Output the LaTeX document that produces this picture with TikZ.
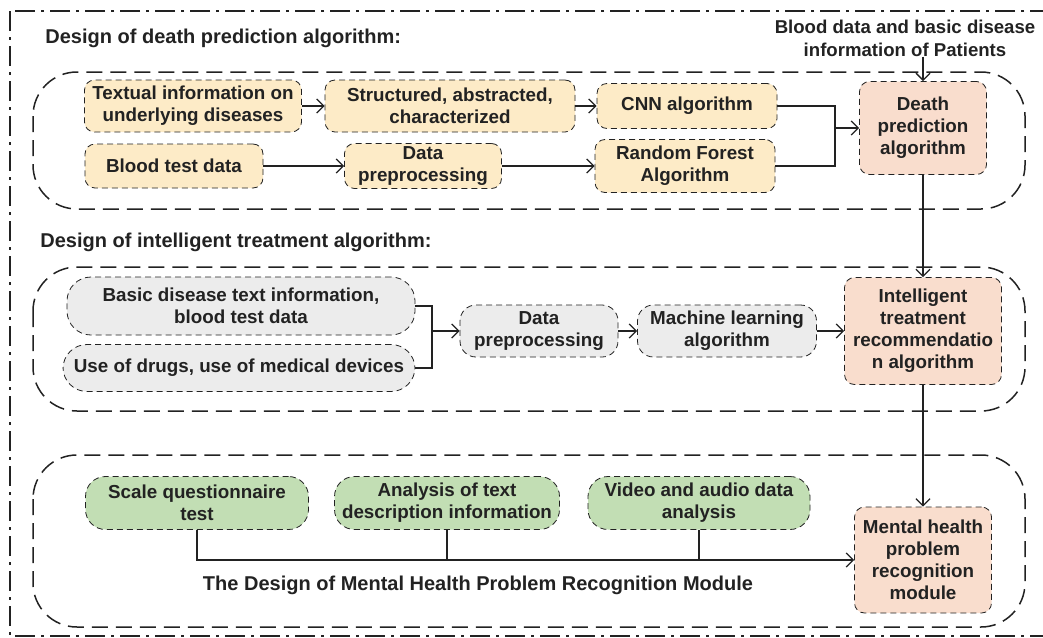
\documentclass[tikz,border=0pt]{standalone}
\usepackage{fontspec}
\setmainfont{Liberation Sans}
\usepackage{tikz}
\usetikzlibrary{%
  positioning
 ,calc
 ,arrows.meta
}
\definecolor{ink}{RGB}{34,34,34}
\definecolor{yelfill}{RGB}{253,235,199}
\definecolor{pinkfill}{RGB}{249,221,205}
\definecolor{gryfill}{RGB}{236,236,236}
\definecolor{grnfill}{RGB}{194,222,180}
\tikzstyle{blk}=[draw=ink,densely dashed,line width=0.4pt,rounded corners=5pt,align=center,inner sep=1pt,font=\fontsize{9.4}{11}\selectfont\bfseries,text=ink]
\tikzstyle{grp}=[draw=ink,line width=0.75pt,dash pattern=on 8pt off 4pt,rounded corners=22pt]
\tikzstyle{hd}=[font=\fontsize{10}{11}\selectfont\bfseries,text=ink,align=center,inner sep=0pt]

\begin{document}
\begin{tikzpicture}[x=0.5pt,y=-0.5pt,
    >={Straight Barb[length=3.5pt,width=7pt]},
    ln/.style={draw=ink,line width=0.65pt}]
  \tikzstyle{yel} = [blk,fill=yelfill]
  \tikzstyle{pnk} = [blk,fill=pinkfill]
  \tikzstyle{gry} = [blk,fill=gryfill,rounded corners=12pt]
  \tikzstyle{grn} = [blk,fill=grnfill,rounded corners=10pt]
  \useasboundingbox (0,0) rectangle (1043,637);
  % the frame
  \draw[ink,line width=0.7pt,dash pattern=on 10pt off 3pt on 1.5pt off 3pt] (10,11) rectangle (1060,636);
  \draw[grp] (33,72) rectangle (1025,209);
  \draw[grp] (33,267) rectangle (1025,411);
  \draw[grp] (33,455) rectangle (1025,627);
  %%%%%%%
  % death prediction
  \node[hd,anchor=west](t1)at(45,38){Design of death prediction algorithm:};
  \node[hd,font=\fontsize{9.3}{11.5}\selectfont\bfseries](hdr)at(905,38){Blood data and basic disease\\information of Patients};
  \node[yel,minimum width=108.5pt,minimum height=26pt](txt)at(193,106){Textual information on\\underlying diseases};
  \node[yel,minimum width=125pt,minimum height=26pt](str)at(450,106){Structured, abstracted,\\characterized};
  \node[yel,minimum width=90pt,minimum height=22.5pt](cnn)at(687,106){CNN algorithm};
  \node[yel,minimum width=89pt,minimum height=22pt](bld)at(174,166){Blood test data};
  \node[yel,minimum width=78.5pt,minimum height=22.5pt](dp1)at(423,166){Data\\preprocessing};
  \node[yel,minimum width=90pt,minimum height=26.5pt](rf)at(685,166){Random Forest\\Algorithm};
  \node[pnk,minimum width=63.5pt,minimum height=46.5pt](death)at(923,128){Death\\prediction\\algorithm};
  \coordinate(j1)at(835,128);
  % the arrows
  \draw[ln,->] (txt)--(str);
  \draw[ln,->] (str)--(cnn);
  \draw[ln,->] (bld)--(dp1);
  \draw[ln,->] (dp1)--(rf);
  \draw[ln] (cnn.east)-|(j1) (rf.east)-|(j1);
  \draw[ln,->] (j1)--(death.west);
  \draw[ln,->] (death.north|-hdr.south)--(death.north);
  %%%%%%%
  % intelligent treatment
  \node[hd,anchor=west](t2)at(40,242){Design of intelligent treatment algorithm:};
  \node[gry,minimum width=174pt,minimum height=29pt](bas)at(241,306){Basic disease text information,\\blood test data};
  \node[gry,minimum width=176pt,minimum height=23.5pt](drg)at(239,368){Use of drugs, use of medical devices};
  \node[gry,rounded corners=8pt,minimum width=79pt,minimum height=26pt](dp2)at(539,331){Data\\preprocessing};
  \node[gry,rounded corners=8pt,minimum width=89.5pt,minimum height=26pt](ml)at(727,331){Machine learning\\algorithm};
  \node[pnk,minimum width=78.5pt,minimum height=53.5pt](intel)at(923,331){Intelligent\\treatment\\recommendatio\\n algorithm};
  \coordinate(j2)at(432,331);
  % the arrows
  \draw[ln] (bas.east)-|(j2) (drg.east)-|(j2);
  \draw[ln,->] (j2)--(dp2.west);
  \draw[ln,->] (dp2)--(ml);
  \draw[ln,->] (ml)--(intel);
  \draw[ln,->] (death)--(intel);
  %%%%%%%
  % mental health
  \node[grn,minimum width=111.5pt,minimum height=26.5pt](scl)at(197,503){Scale questionnaire\\test};
  \node[grn,minimum width=112.5pt,minimum height=26.5pt](ana)at(447,503){Analysis of text\\description information};
  \node[grn,minimum width=111pt,minimum height=26.5pt](vid)at(699,503){Video and audio data\\analysis};
  \node[pnk,minimum width=68.5pt,minimum height=53pt](mnt)at(923,560){Mental health\\problem\\recognition\\module};
  \node[hd](t3)at(478,585){The Design of Mental Health Problem Recognition Module};
  % the arrows
  \draw[ln,->] (scl.south)|-(mnt.west);
  \draw[ln] (ana.south)--(ana.south|-mnt.west);
  \draw[ln] (vid.south)--(vid.south|-mnt.west);
  \draw[ln,->] (intel)--(mnt);
\end{tikzpicture}
\end{document}
